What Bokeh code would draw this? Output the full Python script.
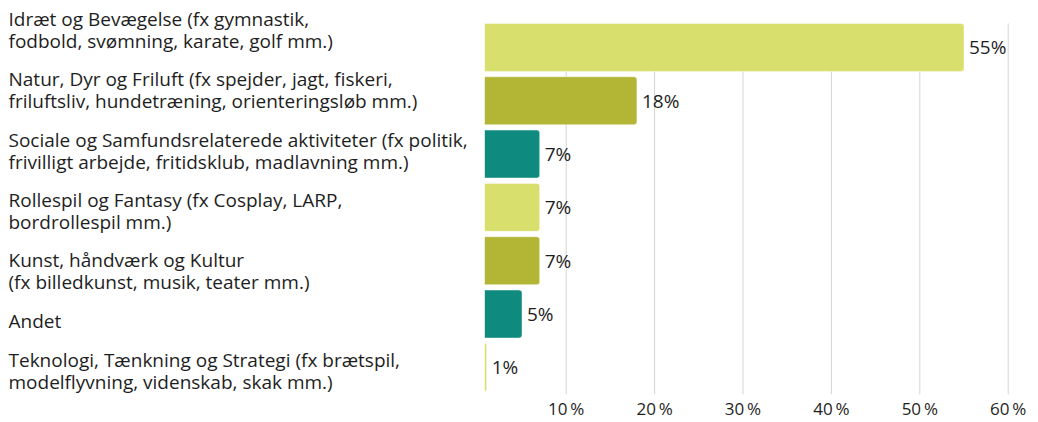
from bokeh.plotting import figure
from bokeh.layouts import row
from bokeh.models import Range1d, FixedTicker, PrintfTickFormatter, ColumnDataSource
from bokeh.core.properties import value
from bokeh.embed import file_html
from bokeh.resources import INLINE

# ---- data ----
categories = [
    "Idræt og Bevægelse (fx gymnastik,\nfodbold, svømning, karate, golf mm.)",
    "Natur, Dyr og Friluft (fx spejder, jagt, fiskeri,\nfriluftsliv, hundetræning, orienteringsløb mm.)",
    "Sociale og Samfundsrelaterede aktiviteter (fx politik,\nfrivilligt arbejde, fritidsklub, madlavning mm.)",
    "Rollespil og Fantasy (fx Cosplay, LARP,\nbordrollespil mm.)",
    "Kunst, håndværk og Kultur\n(fx billedkunst, musik, teater mm.)",
    "Andet",
    "Teknologi, Tænkning og Strategi (fx brætspil,\nmodelflyvning, videnskab, skak mm.)",
]
values = [55, 18, 7, 7, 7, 5, 1]
colors = ["#d9df6d", "#b3b535", "#0f8a7e", "#d9df6d", "#b3b535", "#0f8a7e", "#d9df6d"]
ticks = [10, 20, 30, 40, 50, 60]

# ---- layout constants ----
H = 422
BOTTOM = 23
LEFT_W = 484
RIGHT_W = 1038 - LEFT_W
FONT = "Open Sans"
TEXT_COLOR = "#1e1e1e"
frame_bottom = H - BOTTOM
BAR_H = 0.9

# left labels flow like stacked text blocks (page pixel coordinates)
LINE_PX = 21.0
GAP_PX = 19.0
FIRST_TOP_PX = 9.0
label_y = []
cursor = FIRST_TOP_PX
for c in categories:
    h = LINE_PX * (c.count("\n") + 1)
    label_y.append(cursor + h / 2)
    cursor += h + GAP_PX

labels_src = ColumnDataSource(dict(
    x=[8] * len(categories),
    y=label_y,
    text=categories,
))

left = figure(width=LEFT_W, height=H, x_range=Range1d(0, LEFT_W),
              y_range=Range1d(frame_bottom, 0),
              x_axis_location=None, y_axis_location=None,
              toolbar_location=None, output_backend="svg",
              min_border_top=0, min_border_bottom=BOTTOM,
              min_border_left=0, min_border_right=0)
left.grid.visible = False
left.outline_line_color = None
left.text(x="x", y="y", text="text", source=labels_src,
          text_font=value(FONT), text_font_size="19px", text_color=TEXT_COLOR,
          text_align="left", text_baseline="middle", text_line_height=0.85)

# right figure: x mapping (pixel positions of zero and scale)
zero_px = 477.3
px_per_unit = 8.84
x_start = (LEFT_W - zero_px) / px_per_unit
x_end = (LEFT_W + RIGHT_W - zero_px) / px_per_unit
# y mapping: band pitch and first band centre in pixels
BAND_PX = 54.0
FIRST_BAND_PX = 47.5
y_top = -FIRST_BAND_PX / BAND_PX
y_bottom = (frame_bottom - FIRST_BAND_PX) / BAND_PX

src = ColumnDataSource(dict(
    idx=list(range(len(categories))),
    val=values,
    color=colors,
    lab=[f"{v}%" for v in values],
))

p = figure(width=RIGHT_W, height=H,
           y_range=Range1d(y_bottom, y_top),
           x_range=Range1d(x_start, x_end),
           toolbar_location=None, output_backend="svg",
           min_border_top=0, min_border_bottom=BOTTOM,
           min_border_left=0, min_border_right=0)
p.outline_line_color = None
p.yaxis.visible = False
p.grid.visible = False
p.xaxis.ticker = FixedTicker(ticks=ticks)
p.xaxis.formatter = PrintfTickFormatter(format="%d\u2009%%")
p.xaxis.axis_line_color = None
p.xaxis.major_tick_line_color = None
p.xaxis.minor_tick_line_color = None
p.xaxis.major_tick_out = 0
p.xaxis.major_tick_in = 0
p.xaxis.major_label_standoff = 2
p.xaxis.major_label_text_font = FONT
p.xaxis.major_label_text_font_size = "17px"
p.xaxis.major_label_text_color = TEXT_COLOR

# vertical grid lines from the top of the first bar down to the axis
grid_src = ColumnDataSource(dict(
    x=ticks,
    y0=[-BAR_H / 2] * len(ticks),
    y1=[y_bottom] * len(ticks),
))
p.segment(x0="x", y0="y0", x1="x", y1="y1", source=grid_src,
          line_color="#d4d4d4", line_width=1)

p.hbar(y="idx", left=0, right="val", height=BAR_H, source=src,
       fill_color="color", line_color="white", line_alpha=0.45, line_width=1,
       border_radius=(0, 3, 3, 0))
p.text(x="val", y="idx", text="lab", source=src, x_offset=5,
       text_font=value(FONT), text_font_size="19px", text_color=TEXT_COLOR,
       text_align="left", text_baseline="middle")

layout = row(left, p)
open("out.html", "w").write(file_html(layout, INLINE))
